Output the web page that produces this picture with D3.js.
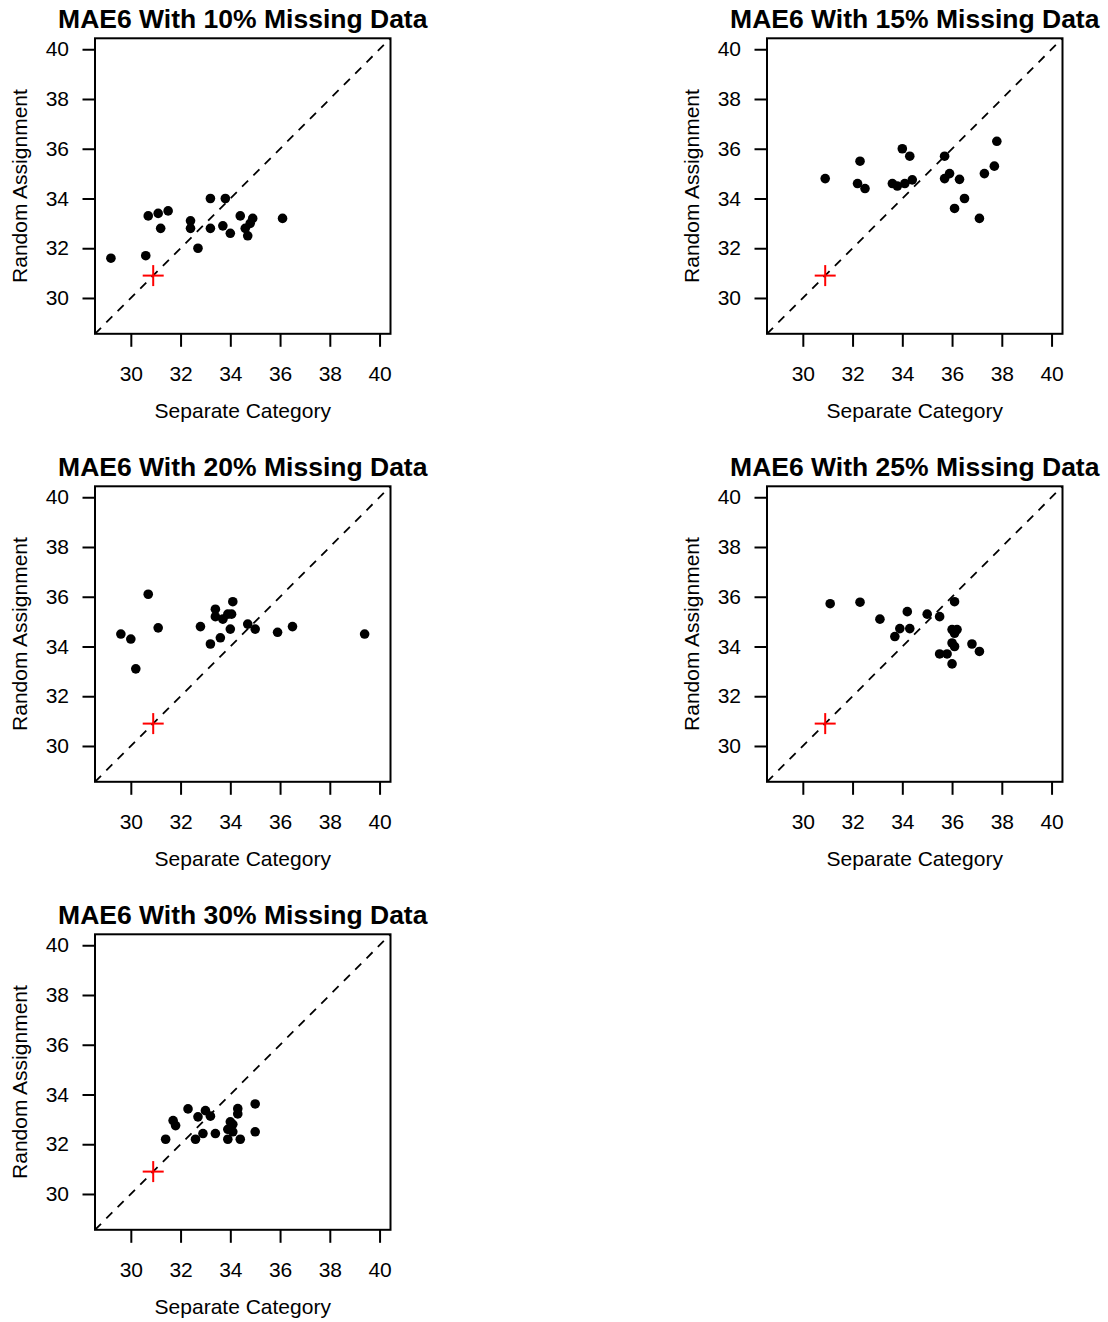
<!DOCTYPE html>
<html>
<head>
<meta charset="utf-8">
<script src="https://cdn.jsdelivr.net/npm/d3@7"></script>
<style>
  body { margin: 0; background: #fff; }
  svg text { font-family: "Liberation Sans", Arial, Helvetica, sans-serif; fill: #000; }
</style>
</head>
<body>
<div id="chart"></div>
<script>
// values, one pair of arrays per panel
const panelTitles = [
    "MAE6 With 10% Missing Data",
    "MAE6 With 15% Missing Data",
    "MAE6 With 20% Missing Data",
    "MAE6 With 25% Missing Data",
    "MAE6 With 30% Missing Data"
];

const sep10  = [29.2, 30.6, 30.7, 31.1, 31.5, 31.2, 32.4, 32.4, 32.7, 33.2, 33.2, 33.8, 33.7, 34.0, 34.4, 34.6, 34.7, 34.8, 34.9, 36.1];
const rand10 = [31.6, 31.7, 33.3, 33.4, 33.5, 32.8, 33.1, 32.8, 32.0, 34.0, 32.8, 34.0, 32.9, 32.6, 33.3, 32.8, 32.5, 33.0, 33.2, 33.2];

const sep15  = [30.9, 32.2, 32.3, 32.5, 33.6, 33.8, 34.1, 34.0, 34.3, 34.4, 35.7, 35.7, 35.9, 36.3, 36.1, 36.5, 37.1, 37.3, 37.7, 37.8];
const rand15 = [34.8, 34.6, 35.5, 34.4, 34.6, 34.5, 34.6, 36.0, 35.7, 34.75, 35.7, 34.8, 35.0, 34.77, 33.6, 34.0, 33.2, 35.0, 35.3, 36.3];

const sep20  = [29.6, 30.0, 30.2, 30.7, 31.1, 32.8, 33.2, 33.4, 33.4, 33.7, 33.6, 33.9, 34.05, 34.1, 34.0, 34.7, 35.0, 35.9, 36.5, 39.4];
const rand20 = [34.5, 34.3, 33.1, 36.1, 34.75, 34.8, 34.1, 35.5, 35.2, 35.1, 34.35, 35.3, 35.3, 35.8, 34.7, 34.9, 34.7, 34.57, 34.8, 34.5];

const sep25  = [31.1, 32.3, 33.1, 33.7, 33.9, 34.3, 34.2, 35.0, 35.5, 36.1, 36.0, 36.2, 36.1, 36.0, 36.1, 35.5, 35.8, 36.0, 36.8, 37.1];
const rand25 = [35.72, 35.78, 35.1, 34.4, 34.72, 34.72, 35.4, 35.3, 35.2, 35.8, 34.68, 34.68, 34.53, 34.14, 34.0, 33.7, 33.7, 33.3, 34.1, 33.8];

const sep30  = [31.4, 31.7, 31.8, 32.3, 32.7, 32.6, 32.9, 33.0, 33.2, 33.4, 33.9, 33.9, 34.0, 34.1, 34.1, 34.3, 34.3, 34.4, 35.0, 35.0];
const rand30 = [32.2, 32.95, 32.75, 33.42, 33.1, 32.2, 32.43, 33.35, 33.13, 32.43, 32.2, 32.6, 32.9, 32.8, 32.5, 33.43, 33.22, 32.2, 33.62, 32.5];

const sepValues  = [sep10, sep15, sep20, sep25, sep30];
const randValues = [rand10, rand15, rand20, rand25, rand30];

const refPoint = [30.9, 30.9];          // red cross
const axisLimits = [29, 40];            // xlim = ylim
const tickValues = [30, 32, 34, 36, 38, 40];

const xLabel = "Separate Category";
const yLabel = "Random Assignment";


ScatterPanel = function(_svg, _index, _left, _top) {
    this.svg = _svg;
    this.index = _index;
    this.left = _left;
    this.top = _top;
    this.initVis();
};

ScatterPanel.prototype.initVis = function() {
    let vis = this;
    vis.size = 295.5;

    // R style 4% padding around the limits
    let pad = (axisLimits[1] - axisLimits[0]) * 0.04;
    let domain = [axisLimits[0] - pad, axisLimits[1] + pad];

    vis.x = d3.scaleLinear().domain(domain).range([0, vis.size]);
    vis.y = d3.scaleLinear().domain(domain).range([vis.size, 0]);

    vis.g = vis.svg.append("g")
        .attr("transform", "translate(" + vis.left + "," + vis.top + ")");

    vis.updateVis();
};

ScatterPanel.prototype.updateVis = function() {
    let vis = this;
    let data = sepValues[vis.index].map((d, i) => ({ x: d, y: randValues[vis.index][i] }));

    vis.g.append("defs").append("clipPath")
        .attr("id", "clip" + vis.index)
        .append("rect")
        .attr("width", vis.size)
        .attr("height", vis.size);

    // diagonal y = x
    let lo = vis.x.domain()[0], hi = vis.x.domain()[1];
    vis.g.append("line")
        .attr("clip-path", "url(#clip" + vis.index + ")")
        .attr("x1", vis.x(lo)).attr("y1", vis.y(lo))
        .attr("x2", vis.x(hi)).attr("y2", vis.y(hi))
        .attr("stroke", "#000")
        .attr("stroke-width", 1.8)
        .attr("stroke-dasharray", "8.5,7.5");

    vis.g.selectAll("circle")
        .data(data)
        .enter()
        .append("circle")
        .attr("cx", d => vis.x(d.x))
        .attr("cy", d => vis.y(d.y))
        .attr("r", 4.8)
        .attr("fill", "#000");

    // red plus at the reference point
    let cx = vis.x(refPoint[0]), cy = vis.y(refPoint[1]);
    let arm = 10.5;
    let cross = vis.g.append("g")
        .attr("stroke", "#ff0000")
        .attr("stroke-width", 2);
    cross.append("line").attr("x1", cx - arm).attr("x2", cx + arm).attr("y1", cy).attr("y2", cy);
    cross.append("line").attr("x1", cx).attr("x2", cx).attr("y1", cy - arm).attr("y2", cy + arm);

    // axes
    let xAxis = d3.axisBottom(vis.x).tickValues(tickValues).tickSize(13).tickPadding(19);
    let yAxis = d3.axisLeft(vis.y).tickValues(tickValues).tickSize(12.5).tickPadding(13.5);

    let gx = vis.g.append("g")
        .attr("transform", "translate(0," + vis.size + ")")
        .call(xAxis);
    let gy = vis.g.append("g").call(yAxis);

    [gx, gy].forEach(a => {
        a.select(".domain").remove();
        a.selectAll(".tick line").attr("stroke", "#000").attr("stroke-width", 2);
        a.selectAll(".tick text")
            .style("font-size", "21px")
            .style("font-family", "'Liberation Sans', Arial, sans-serif")
            .attr("fill", "#000");
    });

    // box
    vis.g.append("rect")
        .attr("width", vis.size)
        .attr("height", vis.size)
        .attr("fill", "none")
        .attr("stroke", "#000")
        .attr("stroke-width", 2);

    vis.g.append("text")
        .attr("x", vis.size / 2)
        .attr("y", -10.5)
        .attr("text-anchor", "middle")
        .style("font-size", "26.5px")
        .style("font-weight", "bold")
        .text(panelTitles[vis.index]);

    vis.g.append("text")
        .attr("x", vis.size / 2)
        .attr("y", vis.size + 84.5)
        .attr("text-anchor", "middle")
        .style("font-size", "21px")
        .text(xLabel);

    vis.g.append("text")
        .attr("transform", "translate(-68," + (vis.size / 2) + ") rotate(-90)")
        .attr("text-anchor", "middle")
        .style("font-size", "21px")
        .text(yLabel);
};


let svg = d3.select("#chart")
    .append("svg")
    .attr("width", 1108)
    .attr("height", 1322);

svg.append("rect").attr("width", 1108).attr("height", 1322).attr("fill", "#fff");

let colLeft = [95, 767];
let rowTop = [38.3, 486.3, 934.3];

panelTitles.forEach((t, i) => {
    new ScatterPanel(svg, i, colLeft[i % 2], rowTop[Math.floor(i / 2)]);
});
</script>
</body>
</html>
